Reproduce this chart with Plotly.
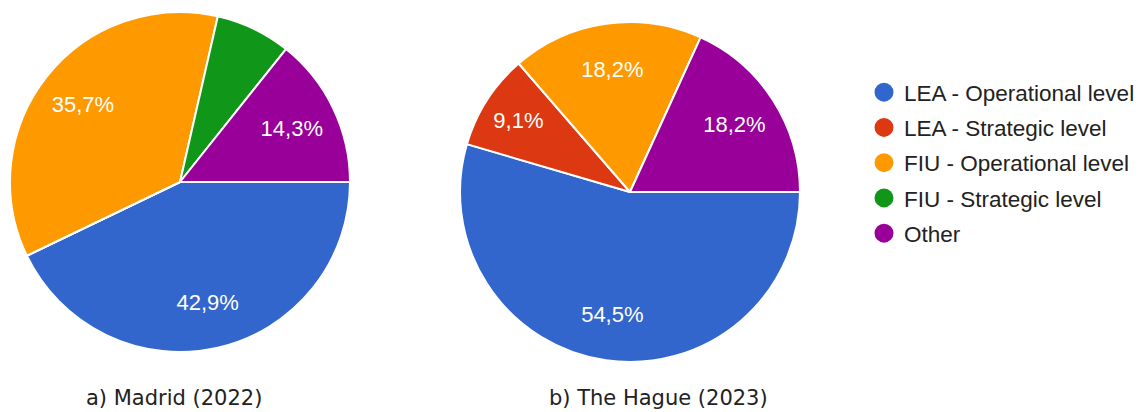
import plotly.graph_objects as go

categories = ["LEA - Operational level", "LEA - Strategic level", "FIU - Operational level",
              "FIU - Strategic level", "Other"]
colors = ["#3366cc", "#dc3912", "#ff9900", "#109618", "#990099"]

madrid_values = [6, 0, 5, 1, 2]
madrid_text = ["42,9%", "", "35,7%", "", "14,3%"]
hague_values = [6, 1, 2, 0, 2]
hague_text = ["54,5%", "9,1%", "18,2%", "", "18,2%"]
captions = ["a) Madrid (2022)", "b) The Hague (2023)"]

W, H = 1148, 412
OFF = 8  # page body margin


def dom(cx, cy, r):
    cx -= OFF
    cy -= OFF
    return dict(x=[(cx - r) / W, (cx + r) / W], y=[(H - cy - r) / H, (H - cy + r) / H])


def px(x, y):
    return (x - OFF) / W, (H - (y - OFF)) / H


fig = go.Figure()
for vals, txt, d in [(madrid_values, madrid_text, dom(180, 182, 170)),
                     (hague_values, hague_text, dom(630, 192, 170))]:
    # coloured slices
    fig.add_trace(go.Pie(
        labels=categories, values=vals, textinfo="none",
        sort=False, direction="clockwise", rotation=90,
        marker=dict(colors=colors, line=dict(color="white", width=2)),
        domain=d, showlegend=False, hoverinfo="label+percent",
    ))
    # percentage labels, placed in an outer ring
    fig.add_trace(go.Pie(
        labels=categories, values=vals, text=txt, texttemplate="%{text}",
        textposition="inside", insidetextorientation="horizontal", hole=0.46,
        sort=False, direction="clockwise", rotation=90,
        marker=dict(colors=["rgba(0,0,0,0)"] * 5, line=dict(width=0)),
        textfont=dict(color="white", size=22, family="Liberation Sans, Arial"),
        domain=d, showlegend=False, hoverinfo="skip",
    ))

for i, (c, col) in enumerate(zip(categories, colors)):
    fig.add_trace(go.Scatter(x=[None], y=[None], mode="markers", name=c,
                             legendgroup=str(i),
                             marker=dict(color=col, size=16, symbol="circle",
                                         line=dict(color=col, width=3))))

for cap, xc in zip(captions, [174, 658]):
    x, y = px(xc, 398)
    fig.add_annotation(x=x, y=y, xref="paper", yref="paper", text=cap,
                       showarrow=False, xanchor="center", yanchor="middle",
                       font=dict(size=21, color="#222", family="DejaVu Sans"))

lx, ly = px(864, 71)
fig.update_layout(
    width=W, height=H, margin=dict(l=0, r=0, t=0, b=0),
    paper_bgcolor="white", plot_bgcolor="white",
    xaxis=dict(visible=False), yaxis=dict(visible=False),
    legend=dict(x=lx, y=ly, xanchor="left", yanchor="top",
                font=dict(size=22.5, color="#222", family="Liberation Sans, Arial"),
                tracegroupgap=3, bgcolor="rgba(0,0,0,0)"),
)
fig.write_html("out.html")
